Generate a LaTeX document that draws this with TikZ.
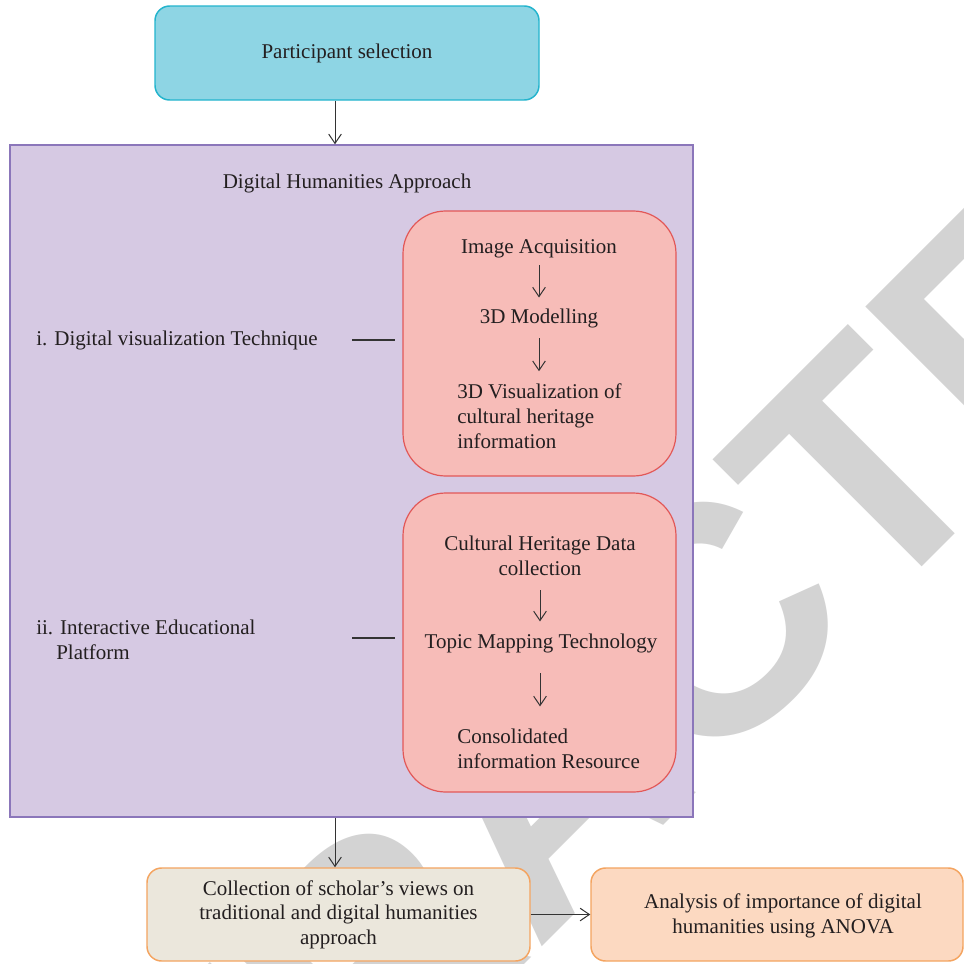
\documentclass[tikz,border=0pt]{standalone}
\usepackage{fontspec}
\setmainfont{Liberation Serif}
\newfontfamily\wmfont{Liberation Sans}
\usetikzlibrary{arrows.meta,calc}
\definecolor{cyanfill}{RGB}{142,213,228}
\definecolor{cyanline}{RGB}{35,180,205}
\definecolor{purfill}{RGB}{214,201,227}
\definecolor{purline}{RGB}{139,118,186}
\definecolor{pinkfill}{RGB}{247,188,184}
\definecolor{pinkline}{RGB}{226,88,88}
\definecolor{begfill}{RGB}{235,231,220}
\definecolor{orline}{RGB}{244,164,96}
\definecolor{peachfill}{RGB}{252,217,193}
\definecolor{txtc}{RGB}{35,31,32}
\definecolor{linec}{RGB}{51,51,51}
\definecolor{wmc}{RGB}{211,211,211}
\begin{document}
\begin{tikzpicture}[x=0.75pt,y=-0.75pt,
  txt/.style={inner sep=0pt, text=txtc, font=\fontsize{15.75pt}{18.75pt}\selectfont},
  box/.style={line width=1.1pt, inner sep=0pt, text=txtc, font=\fontsize{15.75pt}{18.5pt}\selectfont},
  pinkbox/.style={box, line width=0.9pt, fill=pinkfill, draw=pinkline, rounded corners=32pt, minimum width=204.75pt},
  arr/.style={draw=linec, line width=0.75pt, -{Straight Barb[length=7pt,width=9.5pt]}},
  ln/.style={draw=linec, line width=0.9pt},
  wm/.style={inner sep=0pt, text=wmc, font=\wmfont\bfseries\fontsize{243.75pt}{250pt}\selectfont}]
\useasboundingbox (0,0) rectangle (964,964);
\fill[white] (0,0) rectangle (964,964);
\begin{scope}
\clip (0,0) rectangle (964,964);
\node[wm, anchor=base west, rotate=45] (wmark) at (-89,1578) {RETRACTED};
\end{scope}
% top box
\node[box, fill=cyanfill, draw=cyanline, rounded corners=11pt, minimum width=288pt, minimum height=70.5pt] (ps) at (347,53) {Participant selection};
% main purple box
\node[box, fill=purfill, draw=purline, minimum width=512.25pt, minimum height=504pt] (dh) at (351.5,481) {};
\node[txt, anchor=base] (dht) at (347,188) {Digital Humanities Approach};
% pink boxes
\node[pinkbox, minimum height=198.75pt] (pk1) at (539.5,343.5) {};
\node[pinkbox, minimum height=224.25pt] (pk2) at (539.5,642.5) {};
\node[txt, anchor=base] (ia) at (539,253) {Image Acquisition};
\node[txt, anchor=base] (md) at (539,323) {3D Modelling};
\node[txt, anchor=base west, align=left] (vz) at (457,448) {3D Visualization of\\cultural heritage\\information};
\node[txt, anchor=base, align=center] (cd) at (540,575) {Cultural Heritage Data\\collection};
\node[txt, anchor=base] (tm) at (541,648) {Topic Mapping Technology};
\node[txt, anchor=base west, align=left] (cr) at (457,768) {Consolidated\\information Resource};
% left labels
\node[txt, anchor=base west] (l1) at (36,345) {i. Digital visualization Technique};
\node[txt, anchor=base west, align=left] (l2) at (36,659) {ii. Interactive Educational\\\hspace*{15pt}Platform};
\coordinate (la) at (352,0);
\coordinate (lb) at (395,0);
\coordinate (l2y) at (0,638);
\draw[ln] (l1.east -| la) -- (l1.east -| lb);
\draw[ln] (l2y -| la) -- (l2y -| lb);
% bottom boxes
\node[box, fill=begfill, draw=orline, rounded corners=11pt, minimum width=287.25pt, minimum height=69.75pt, align=center] (b1) at (338.5,914.5) {Collection of scholar’s views on\\traditional and digital humanities\\approach};
\node[box, fill=peachfill, draw=orline, rounded corners=11pt, minimum width=279pt, minimum height=69.75pt] (b2) at (777,914.5) {};
\node[txt, anchor=base, align=center] (b2t) at (783,933) {Analysis of importance of digital\\humanities using ANOVA};
% connectors
\coordinate (ax) at (335,0);
\draw[arr] (ps.south -| ax) -- (dh.north -| ax);
\draw[arr] (dh.south -| ax) -- (b1.north -| ax);
\draw[arr] (b1.east) -- (b2.west);
\draw[arr, shorten <=5.5pt, shorten >=8pt] (ia.south) -- (md.north);
\draw[arr, shorten <=7.8pt, shorten >=8.8pt] (md.south) -- (vz.north -| md.south);
\draw[arr, shorten <=11pt, shorten >=8.8pt] (cd.south) -- (tm.north -| cd.south);
\draw[arr, shorten <=15.3pt, shorten >=16.3pt] (tm.south -| cd.south) -- (cr.north -| cd.south);
\end{tikzpicture}
\end{document}
